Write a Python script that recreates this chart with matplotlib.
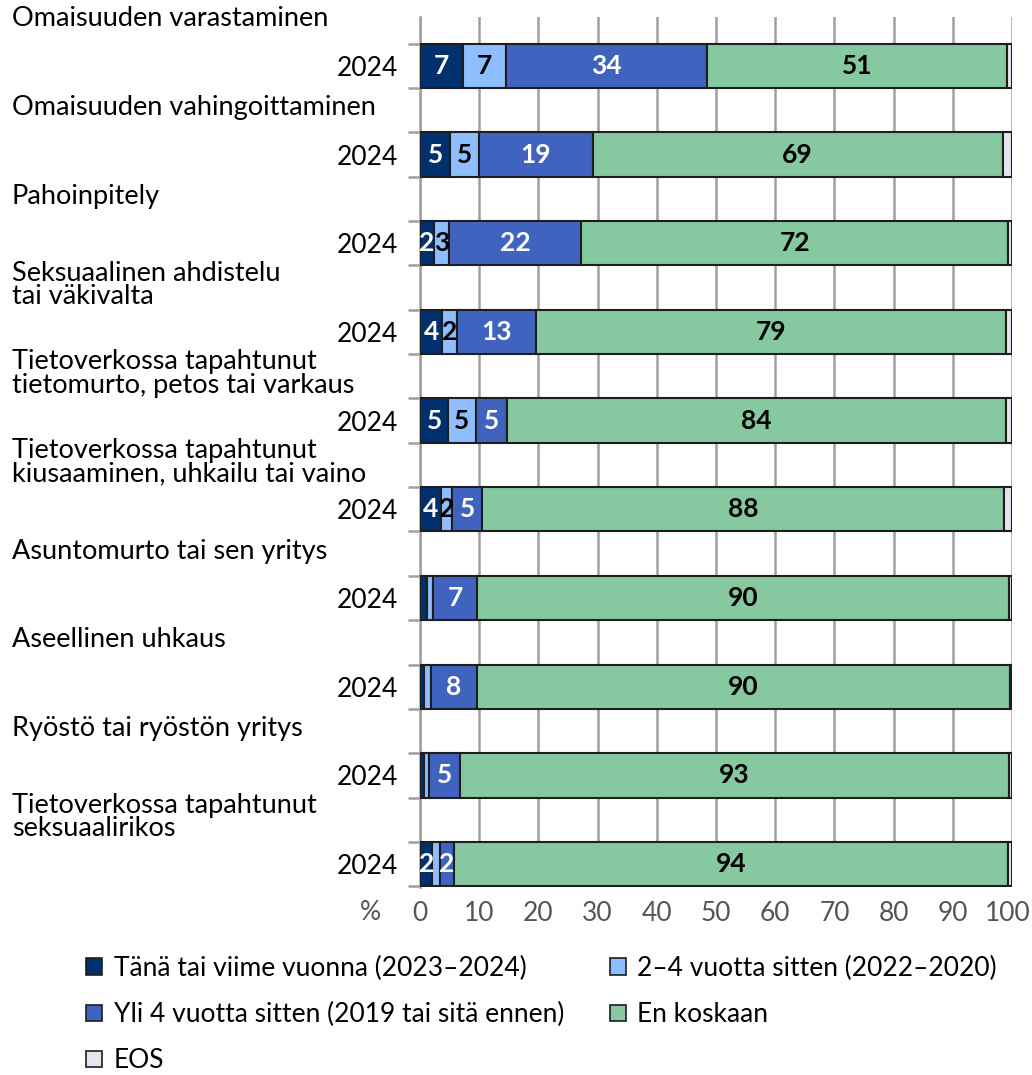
import matplotlib
matplotlib.use("Agg")
import matplotlib.pyplot as plt
from matplotlib.patches import Patch
from matplotlib.transforms import blended_transform_factory, ScaledTranslation
import numpy as np

plt.rcParams['font.family'] = ['Lato', 'DejaVu Sans']

categories = [
    "Omaisuuden varastaminen",
    "Omaisuuden vahingoittaminen",
    "Pahoinpitely",
    "Seksuaalinen ahdistelu\ntai väkivalta",
    "Tietoverkossa tapahtunut\ntietomurto, petos tai varkaus",
    "Tietoverkossa tapahtunut\nkiusaaminen, uhkailu tai vaino",
    "Asuntomurto tai sen yritys",
    "Aseellinen uhkaus",
    "Ryöstö tai ryöstön yritys",
    "Tietoverkossa tapahtunut\nseksuaalirikos",
]
year_label = "2024"

series_names = [
    "Tänä tai viime vuonna (2023–2024)",
    "2–4 vuotta sitten (2022–2020)",
    "Yli 4 vuotta sitten (2019 tai sitä ennen)",
    "En koskaan",
    "EOS",
]
dark = [7.2, 5.1, 2.3, 3.8, 4.8, 3.6, 1.2, 0.7, 0.7, 2.1]
light = [7.3, 4.9, 2.6, 2.4, 4.6, 1.8, 1.0, 1.1, 0.8, 1.2]
mid = [33.9, 19.2, 22.3, 13.4, 5.3, 5.1, 7.4, 7.8, 5.3, 2.4]
green = [50.8, 69.2, 72.2, 79.4, 84.3, 88.2, 89.9, 90.1, 92.7, 93.7]
eos = [0.8, 1.6, 0.6, 1.0, 1.0, 1.3, 0.5, 0.3, 0.5, 0.6]

x_ticks = [0, 10, 20, 30, 40, 50, 60, 70, 80, 90, 100]

colors = ["#00306e", "#8ebeff", "#4163c0", "#86c9a0", "#e6e4ee"]
text_colors = ["white", "black", "white", "black", "black"]

FS = 19

fig = plt.figure(figsize=(10.32, 10.75), dpi=100)
ax = fig.add_axes([420 / 1032, 1 - 886.7 / 1075, (1012 - 420) / 1032, (886.7 - 16.7) / 1075])

y = np.arange(len(categories))
left = np.zeros(len(categories))
all_series = [dark, light, mid, green, eos]
for vals, col, tcol in zip(all_series, colors, text_colors):
    vals = np.array(vals)
    ax.barh(y, vals, left=left, height=0.5, color=col, edgecolor="#1e1e1e",
            linewidth=1.5, zorder=3)
    for yi, (l, v) in enumerate(zip(left, vals)):
        if col != colors[4] and v >= 1.5:
            ax.text(l + v / 2, yi, f"{round(v)}", ha="center", va="center",
                    color=tcol, fontsize=FS, fontweight="bold", zorder=4)
    left += vals

ax.set_xlim(0, 100)
ax.set_ylim(9 + 22.7 / 88.7, -49.3 / 88.7)
ax.set_xticks(x_ticks)
ax.set_xticklabels([str(t) for t in x_ticks], fontsize=FS, color="#555555")
ax.tick_params(axis="x", length=0, pad=10)
last = ax.get_xticklabels()[-1]
last.set_transform(last.get_transform() + ScaledTranslation(-4 / 100, 0, fig.dpi_scale_trans))
ax.set_yticks(y)
ax.set_yticklabels([year_label] * len(y), fontsize=FS, color="black")
ax.tick_params(axis="y", length=0, pad=16)
ax.set_yticks(np.sort(np.concatenate([y - 0.25, y + 0.25])), minor=True)
ax.tick_params(axis="y", which="minor", length=9, width=1.8, color="#a0a0a0")
ax.xaxis.grid(True, color="#a0a0a0", linewidth=1.8, zorder=0)
ax.set_axisbelow(True)
for s in ["top", "right", "bottom"]:
    ax.spines[s].set_visible(False)
ax.spines["left"].set_color("#a0a0a0")
ax.spines["left"].set_linewidth(1.8)

trans = blended_transform_factory(fig.transFigure, ax.transData)
for i, cat in enumerate(categories):
    ax.text(12 / 1032, i - 0.53, cat, transform=trans, ha="left", va="center",
            fontsize=19.5, color="black", linespacing=0.92)

fig.text(370 / 1032, 1 - 912 / 1075, "%", ha="center", va="center",
         fontsize=FS, color="#555555")

handles = [Patch(facecolor=c, edgecolor="#1e1e1e", linewidth=1.2) for c in colors]
order = [0, 2, 4, 1, 3]
fig.legend([handles[i] for i in order], [series_names[i] for i in order],
           ncol=2, loc="upper left", bbox_to_anchor=(86 / 1032, 1 - 956 / 1075),
           frameon=False, fontsize=FS, handlelength=0.6, handleheight=0.6,
           handletextpad=0.45, labelspacing=0.8, columnspacing=1.73,
           borderaxespad=0, borderpad=0)

fig.savefig("out.png", dpi=100)
